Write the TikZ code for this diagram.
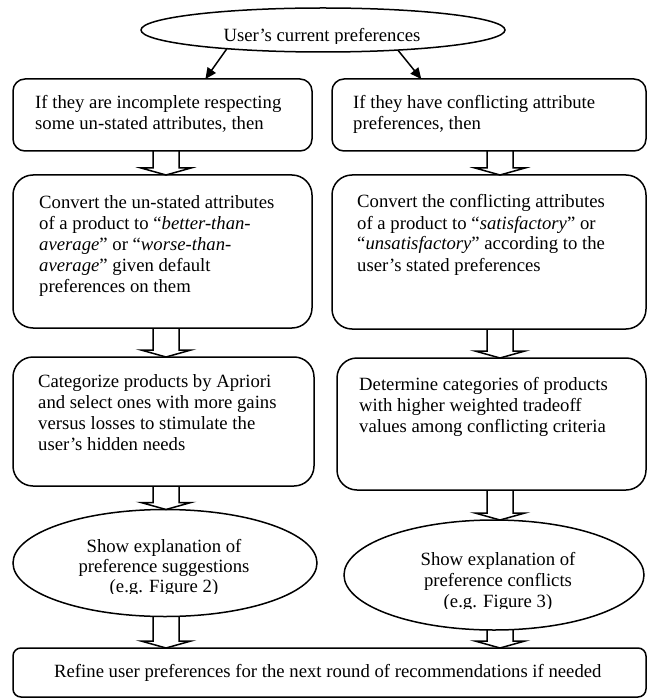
\documentclass[tikz,border=0pt]{standalone}
\usepackage{fontspec}
\setmainfont{Liberation Serif}
\usetikzlibrary{shapes.geometric,arrows.meta,calc}

\tikzset{
  box/.style={draw, line width=1.5pt, rounded corners=#1, inner sep=0pt, outer sep=0pt, anchor=north west},
  box/.default=12pt,
  oval/.style={draw, ellipse, line width=1.5pt, inner sep=0pt, outer sep=0pt},
  txt/.style={font=\fontsize{18.7}{21}\selectfont, inner sep=0pt, align=left, anchor=base west},
  ctxt/.style={txt, align=center, anchor=base},
  arr/.style={line width=1.5pt, -{Triangle[length=11pt,width=10pt]}},
  fat/.style={line width=1.5pt, line join=miter},
}

% hollow block arrow from one node down to the next, in column #3
\newcommand{\fatarrow}[3]{%
  \draw[fat] let \p1=(#1.south -| #3), \p2=(#2.north -| #3) in
    (\x1-13pt,\y1) -- (\x1-13pt,\y2+7pt) -- (\x1-25pt,\y2+7pt) -- (\x2,\y2)
    -- (\x1+25pt,\y2+7pt) -- (\x1+13pt,\y2+7pt) -- (\x1+13pt,\y1);
}

\begin{document}
\begin{tikzpicture}[x=1pt,y=-1pt]
  \useasboundingbox (0,0) rectangle (650,700);

  % shapes
  \node[oval, minimum width=364pt, minimum height=44pt] (T) at (323,30) {};
  \node[box, minimum width=299pt, minimum height=72pt] (L1) at (13,79) {};
  \node[box, minimum width=314pt, minimum height=72pt] (R1) at (332,79) {};
  \node[box=20pt, minimum width=299pt, minimum height=153pt] (L2) at (13,175) {};
  \node[box=20pt, minimum width=314pt, minimum height=154pt] (R2) at (332,175) {};
  \node[box=20pt, minimum width=301pt, minimum height=129pt] (L3) at (13,357) {};
  \node[box=20pt, minimum width=309pt, minimum height=132pt] (R3) at (337,358) {};
  \node[oval, minimum width=304pt, minimum height=107pt] (EL) at (165,563) {};
  \node[oval, minimum width=300pt, minimum height=110pt] (ER) at (494,575) {};
  \node[box=8pt, minimum width=633pt, minimum height=49pt] (B) at (13,648) {};

  % texts (base = last line)
  \begin{scope}
    \clip (0,0) rectangle (650,43.5);
    \node[ctxt] (Tt) at ($(T.center)+(-1,12)$) {User's current preferences};
  \end{scope}
  \node[txt] (L1t) at ($(L1.north west)+(22,51)$) {If they are incomplete respecting\\some un-stated attributes, then};
  \node[txt] (R1t) at ($(R1.north west)+(21,51)$) {If they have conflicting attribute\\preferences, then};
  \node[txt] (L2t) at ($(L2.north west)+(26,117)$) {Convert the un-stated attributes\\of a product to ``\textit{better-than-}\\\textit{average}'' or ``\textit{worse-than-}\\\textit{average}'' given default\\preferences on them};
  \node[txt] (R2t) at ($(R2.north west)+(25,96)$) {Convert the conflicting attributes\\of a product to ``\textit{satisfactory}'' or\\``\textit{unsatisfactory}'' according to the\\user's stated preferences};
  \node[txt] (L3t) at ($(L3.north west)+(25,93)$) {Categorize products by Apriori\\and select ones with more gains\\versus losses to stimulate the\\user's hidden needs};
  \node[txt] (R3t) at ($(R3.north west)+(22,74)$) {Determine categories of products\\with higher weighted tradeoff\\values among conflicting criteria};
  \begin{scope}
    \clip (0,0) rectangle (330,593.5);
    \node[ctxt, font=\fontsize{18.7}{20}\selectfont] (ELt) at ($(EL.center)+(-1,29)$) {Show explanation of\\preference suggestions\\(e.g. Figure 2)};
  \end{scope}
  \begin{scope}
    \clip (330,0) rectangle (650,608);
    \node[ctxt] (ERt) at ($(ER.center)+(4,32)$) {Show explanation of\\preference conflicts\\(e.g. Figure 3)};
  \end{scope}
  \node[txt] (Bt) at ($(B.north west)+(41,29)$) {Refine user preferences for the next round of recommendations if needed};

  % connectors
  \draw[arr] (T.191) -- (L1.40);
  \draw[arr] (T.345) -- (R1.152);
  \coordinate (lx) at (166,0);
  \coordinate (rx) at (500,0);
  \foreach \a/\b/\c in {L1/L2/lx, R1/R2/rx, L2/L3/lx, R2/R3/rx, L3/EL/lx, R3/ER/rx, EL/B/lx, ER/B/rx}
    \fatarrow{\a}{\b}{\c};
\end{tikzpicture}
\end{document}
